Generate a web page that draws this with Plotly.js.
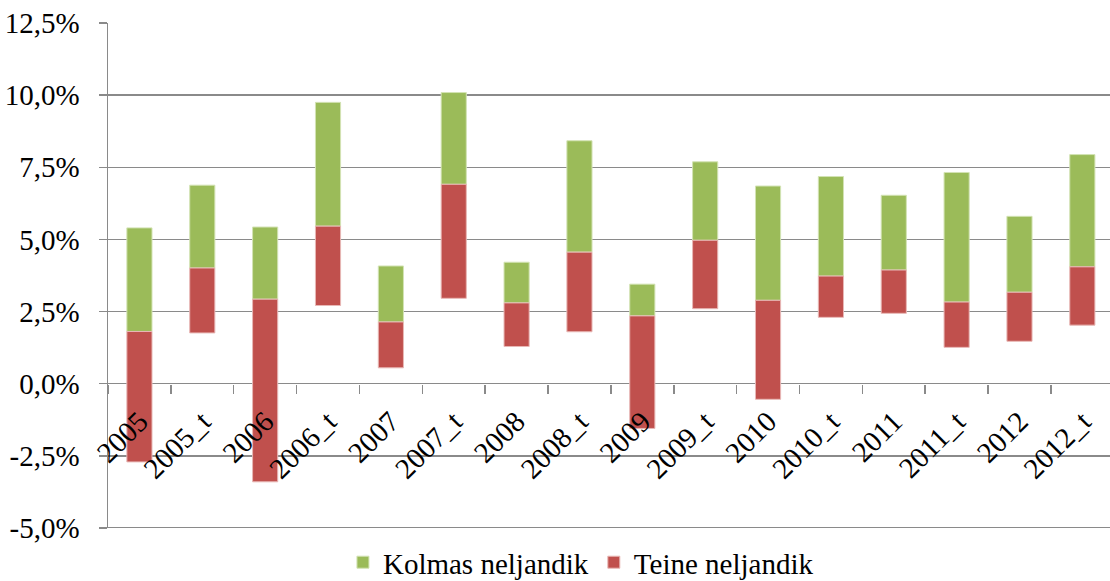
<!DOCTYPE html>
<html>
<head>
<meta charset="utf-8">
<script src="https://cdn.plot.ly/plotly-3.0.1.min.js"></script>
<style>html,body{margin:0;padding:0;background:#fff;}#chart{width:1110px;height:581px;}</style>
</head>
<body>
<div id="chart"></div>
<script>
var categories = ['2005','2005_t','2006','2006_t','2007','2007_t','2008','2008_t','2009','2009_t','2010','2010_t','2011','2011_t','2012','2012_t'];
// red bar bottom (low), red top / green bottom (mid), green top (high), in %
var lowVals  = [-2.71, 1.76, -3.40, 2.71, 0.55, 2.96, 1.29, 1.80, -1.55, 2.60, -0.54, 2.30, 2.44, 1.26, 1.47, 2.03];
var midVals  = [ 1.81, 4.01,  2.93, 5.46, 2.14, 6.91, 2.80, 4.56,  2.35, 4.97,  2.89, 3.73, 3.94, 2.83, 3.17, 4.05];
var highVals = [ 5.40, 6.88,  5.43, 9.75, 4.08, 10.09, 4.21, 8.42, 3.45, 7.69,  6.85, 7.18, 6.53, 7.32, 5.80, 7.94];
var yTickVals = [-5, -2.5, 0, 2.5, 5, 7.5, 10, 12.5];
var yTickText = ['-5,0%', '-2,5%', '0,0%', '2,5%', '5,0%', '7,5%', '10,0%', '12,5%'];

var redLen = lowVals.map(function(v, i){ return midVals[i] - v; });
var greenLen = midVals.map(function(v, i){ return highVals[i] - v; });

var FONT = 'Liberation Serif, Times New Roman, serif';
var GRID = '#8a8a8a';

var traces = [
  {type:'bar', name:'Kolmas neljandik', x:categories, y:greenLen, base:midVals, width:0.4,
   marker:{color:'#9BBB59', line:{color:'#d3e3b4', width:1}}, hoverinfo:'skip'},
  {type:'bar', name:'Teine neljandik', x:categories, y:redLen, base:lowVals, width:0.4,
   marker:{color:'#C0504D', line:{color:'#e8b8b6', width:1}}, hoverinfo:'skip'}
];

var layout = {
  width:1110, height:581,
  margin:{l:108, r:0, t:23, b:53, pad:0, autoexpand:false},
  paper_bgcolor:'#fff', plot_bgcolor:'#fff',
  barmode:'overlay',
  font:{family:FONT, size:29, color:'#000'},
  showlegend:true,
  legend:{orientation:'h', x:0.472, xanchor:'center', y:-0.068, yanchor:'middle',
          font:{family:FONT, size:29, color:'#000'}, traceorder:'normal', itemwidth:30},
  xaxis:{type:'category', range:[-0.5, 15.44], anchor:'free', position:5/17.5,
         tickson:'boundaries', ticks:'outside', ticklen:9, tickcolor:GRID, tickwidth:1.5,
         showgrid:false, showline:false, zeroline:false, tickangle:-45,
         ticklabelstandoff:14,
         tickfont:{family:FONT, size:29, color:'#000'}, fixedrange:true},
  yaxis:{range:[-5, 12.5], tickvals:yTickVals, ticktext:yTickText,
         showgrid:true, gridcolor:GRID, gridwidth:1.5, zeroline:false,
         showline:true, linecolor:GRID, linewidth:1.5,
         ticks:'outside', ticklen:8, tickcolor:GRID, tickwidth:1.5,
         ticklabelstandoff:13,
         tickfont:{family:FONT, size:29, color:'#000'}, fixedrange:true},
  shapes:[{type:'line', xref:'paper', x0:0, x1:1, yref:'y', y0:yTickVals[0], y1:yTickVals[0],
           line:{color:GRID, width:2}, layer:'below'}]
};

Plotly.newPlot('chart', traces, layout, {displayModeBar:false, staticPlot:true});
</script>
</body>
</html>
